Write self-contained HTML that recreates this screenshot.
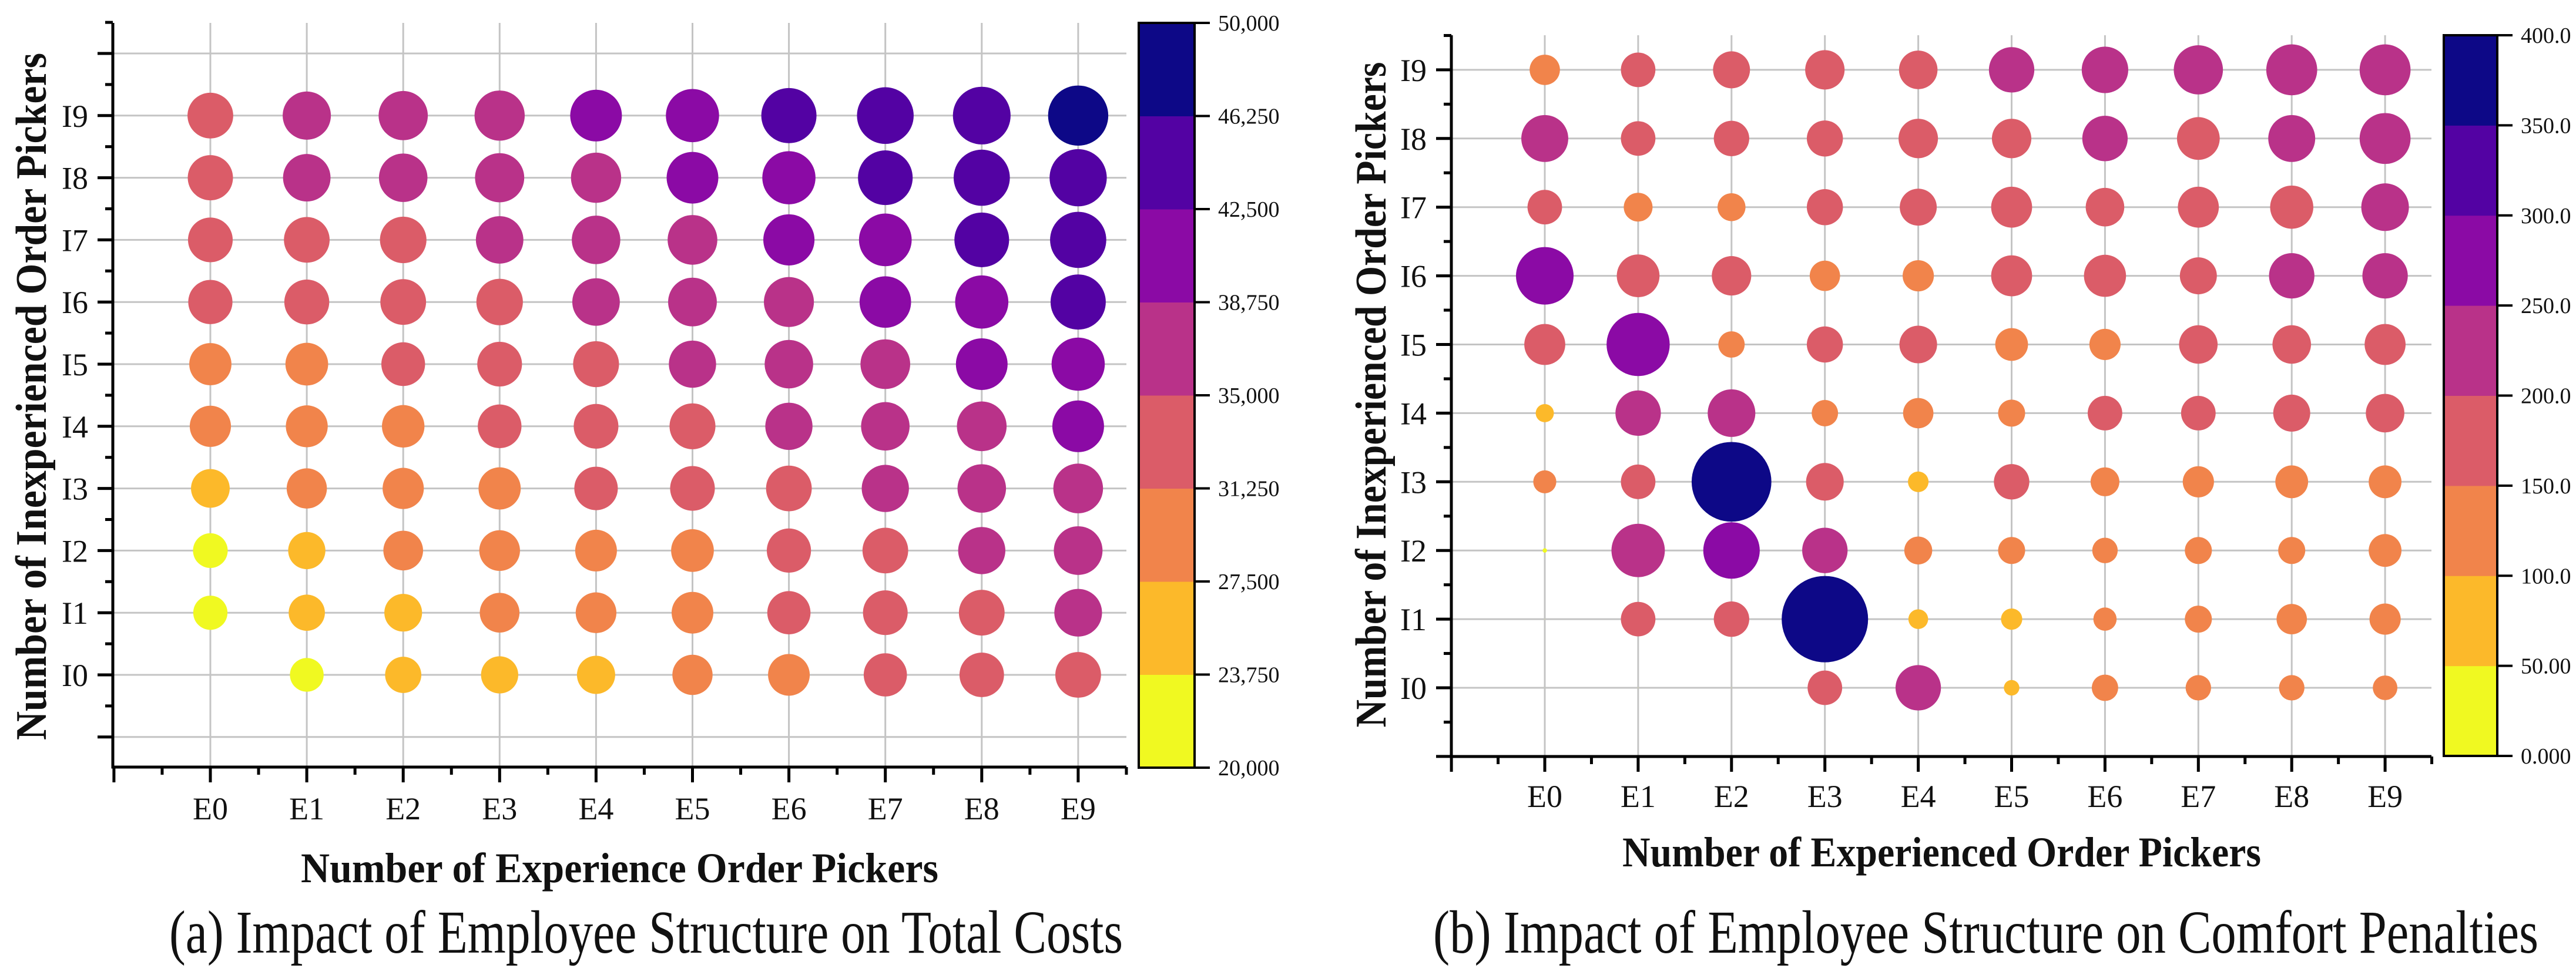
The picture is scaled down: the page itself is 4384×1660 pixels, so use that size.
<!DOCTYPE html>
<html><head><meta charset="utf-8"><style>
html,body{margin:0;padding:0;background:#fff}
svg{display:block}
text{font-family:"Liberation Serif","DejaVu Serif",serif;fill:#111}
</style></head><body>
<svg id="root" width="4384" height="1660" viewBox="0 0 4384 1660" xmlns="http://www.w3.org/2000/svg" font-family="Liberation Serif, serif">
<g id="chartA"></g>
<g id="chartB"></g>
</svg>
<script>
// ---- data ----
const eCats = ["E0","E1","E2","E3","E4","E5","E6","E7","E8","E9"];
const iCats = ["I0","I1","I2","I3","I4","I5","I6","I7","I8","I9"];
// Chart A: total costs, rows I0..I9, columns E0..E9
const costI0 = [null,22000,24500,25500,26500,28500,30000,31500,32800,34000];
const costI1 = [22500,24500,26000,28000,29000,30000,31500,33000,34000,36000];
const costI2 = [23000,25500,28000,29000,30000,31000,32500,34000,35500,37000];
const costI3 = [27000,28500,29500,30500,31800,33000,34000,35500,36800,38000];
const costI4 = [29500,30200,30800,32000,33000,34200,35500,36800,38000,40000];
const costI5 = [30500,31000,32000,33000,34200,35500,36800,38000,40000,41500];
const costI6 = [32500,33200,34000,34800,35800,37000,38300,39800,41500,43500];
const costI7 = [33000,34000,34800,35800,36800,38000,39500,41000,43000,44500];
const costI8 = [33500,35800,36800,37500,38500,40000,41500,43000,44500,45500];
const costI9 = [34000,36500,37500,38500,40000,41500,43500,45000,46000,48500];
const costTicks = ["20,000","23,750","27,500","31,250","35,000","38,750","42,500","46,250","50,000"];
// Chart B: comfort penalties
const penI0 = [1,2,2,156,205,70,119,115,115,111];
const penI1 = [2,156,160,390,89,96,105,122,137,141];
const penI2 = [20,241,255,205,126,122,115,122,122,148];
const penI3 = [104,156,360,170,93,160,130,141,148,148];
const penI4 = [82,205,215,119,137,122,156,156,167,174];
const penI5 = [185,285,119,163,170,148,141,174,174,185];
const penI6 = [260,193,178,137,141,185,190,167,205,205];
const penI7 = [156,130,126,163,167,185,174,185,195,215];
const penI8 = [212,156,160,163,178,178,205,193,212,230];
const penI9 = [137,156,167,178,174,205,210,222,230,230];
const penTicks = ["0.000","50.00","100.0","150.0","200.0","250.0","300.0","350.0","400.0"];

const bandColors = ["#f0f921","#fcb92a","#f1844b","#db5c68","#b93289","#8b0aa5","#5302a3","#0d0887"];
const costRows = [costI0,costI1,costI2,costI3,costI4,costI5,costI6,costI7,costI8,costI9];
const penRows = [penI0,penI1,penI2,penI3,penI4,penI5,penI6,penI7,penI8,penI9];

const NS = "http://www.w3.org/2000/svg";
const FF = '"Liberation Serif", serif';
function mk(parent, tag, attrs, txt){
  const el = document.createElementNS(NS, tag);
  for (const k in attrs) el.setAttribute(k, attrs[k]);
  if (txt !== undefined) { el.textContent = txt; el.setAttribute("font-family", FF); }
  parent.appendChild(el);
  return el;
}

function drawChart(g, cfg){
  const xs = i => cfg.x0 + i*cfg.dx;
  const ys = j => cfg.y0 - j*cfg.dy;
  for (let i=0;i<10;i++){
    const l = mk(g,"line",{x1:xs(i),x2:xs(i),y1:cfg.top,y2:cfg.bottom,stroke:"#c4c4c4","stroke-width":3});
    
    
  }
  cfg.hGrid.forEach(j=>{
    const l = mk(g,"line",{x1:cfg.left,x2:cfg.right,y1:ys(j),y2:ys(j),stroke:"#c4c4c4","stroke-width":3});
    
    
  });
  for (let j=0;j<10;j++){
    for (let i=0;i<10;i++){
      const v = cfg.rows[j][i];
      if (v===null || v===undefined) continue;
      let b = Math.floor((v-cfg.vmin)/(cfg.vmax-cfg.vmin)*8);
      b = Math.max(0,Math.min(7,b));
      const r = cfg.size(v)/2;
      const c = mk(g,"circle",{cx:xs(i),cy:ys(j),r:r,fill:bandColors[b]});
      
      
    }
  }
  const ax = mk(g,"path",{d:`M${cfg.left} ${cfg.top} L${cfg.left} ${cfg.bottom} L${cfg.right} ${cfg.bottom}`,fill:"none",stroke:"#000","stroke-width":5});
  
  
  for (let t=-1; t<=9.5; t+=0.5){
    const x = xs(t); if (x>cfg.right+1) break;
    const major = Number.isInteger(t);
    mk(g,"line",{x1:x,x2:x,y1:cfg.bottom,y2:cfg.bottom+(major?26:13),stroke:"#000","stroke-width":5});
  }
  for (let t=cfg.yMinTick; t<=cfg.yMaxTick; t+=0.5){
    const y = ys(t); if (y<cfg.top-1 || y>cfg.bottom+1) continue;
    const major = Number.isInteger(t);
    mk(g,"line",{x1:cfg.left-(major?26:13),x2:cfg.left,y1:y,y2:y,stroke:"#000","stroke-width":5});
  }
  eCats.forEach((e,i)=>{
    const t = mk(g,"text",{x:xs(i),y:cfg.eLabelY,"font-size":54,"text-anchor":"middle"},e);
    
    
  });
  iCats.forEach((s,j)=>{
    const t = mk(g,"text",{x:cfg.iLabelX,y:ys(j)+19,"font-size":54,"text-anchor":"end"},s);
    
    
  });
  const xt = mk(g,"text",{x:cfg.xt[0],y:cfg.xt[1],"font-size":72,"font-weight":"bold",textLength:cfg.xt[2],lengthAdjust:"spacingAndGlyphs"},cfg.xTitle);
  
  
  const yt = mk(g,"text",{x:0,y:0,"font-size":74,"font-weight":"bold","text-anchor":"middle",textLength:cfg.yt[2],lengthAdjust:"spacingAndGlyphs",transform:`translate(${cfg.yt[0]},${cfg.yt[1]}) rotate(-90)`},cfg.yTitle);
  
  
  const cap = mk(g,"text",{x:cfg.cap[0],y:cfg.cap[1],"font-size":104,textLength:cfg.cap[2],lengthAdjust:"spacingAndGlyphs"},cfg.caption);
  
  
  const cb = cfg.cb; const bh = (cb.bottom-cb.top)/8;
  const cg = mk(g,"g",{});
  
  
  for (let k=0;k<8;k++){
    mk(cg,"rect",{x:cb.x1,y:cb.bottom-(k+1)*bh,width:cb.x2-cb.x1,height:bh+0.5,fill:bandColors[k]});
  }
  mk(cg,"rect",{x:cb.x1,y:cb.top,width:cb.x2-cb.x1,height:cb.bottom-cb.top,fill:"none",stroke:"#000","stroke-width":4});
  cfg.ticks.forEach((s,k)=>{
    const y = cb.bottom-k*bh;
    mk(cg,"line",{x1:cb.x2,x2:cb.x2+26,y1:y,y2:y,stroke:"#000","stroke-width":4});
    const t = mk(cg,"text",{x:cb.x2+40,y:y+13,"font-size":38},s);
    
    
  });
}

drawChart(document.getElementById("chartA"),{
  x0:358, dx:164.1, y0:1149, dy:105.8,
  left:192, right:1917, top:39, bottom:1306,
  hGrid:[-1,0,1,2,3,4,5,6,7,8,9,10], yMinTick:-1.5, yMaxTick:10.5,
  rows:costRows, vmin:20000, vmax:50000, size:v=>20+0.0017*v,
  eLabelY:1395, iLabelX:150,
  xTitle:"Number of Experience Order Pickers", xt:[512,1502,1085],
  yTitle:"Number of Inexperienced Order Pickers", yt:[78,675,1170],
  caption:"(a) Impact of Employee Structure on Total Costs", cap:[288,1622,1623],
  cb:{x1:1938,x2:2033,top:39,bottom:1307}, ticks:costTicks
});
drawChart(document.getElementById("chartB"),{
  x0:2629, dx:158.9, y0:1171, dy:116.9,
  left:2470, right:4138, top:60, bottom:1288,
  hGrid:[0,1,2,3,4,5,6,7,8,9], yMinTick:-1, yMaxTick:9.5,
  rows:penRows, vmin:0, vmax:400, size:v=>0.377*v,
  eLabelY:1374, iLabelX:2428,
  xTitle:"Number of Experienced Order Pickers", xt:[2761,1475,1087],
  yTitle:"Number of Inexperienced Order Pickers", yt:[2358,672,1133],
  caption:"(b) Impact of Employee Structure on  Comfort Penalties", cap:[2439,1622,1881],
  cb:{x1:4159,x2:4250,top:60,bottom:1287}, ticks:penTicks
});
</script>
</body></html>
